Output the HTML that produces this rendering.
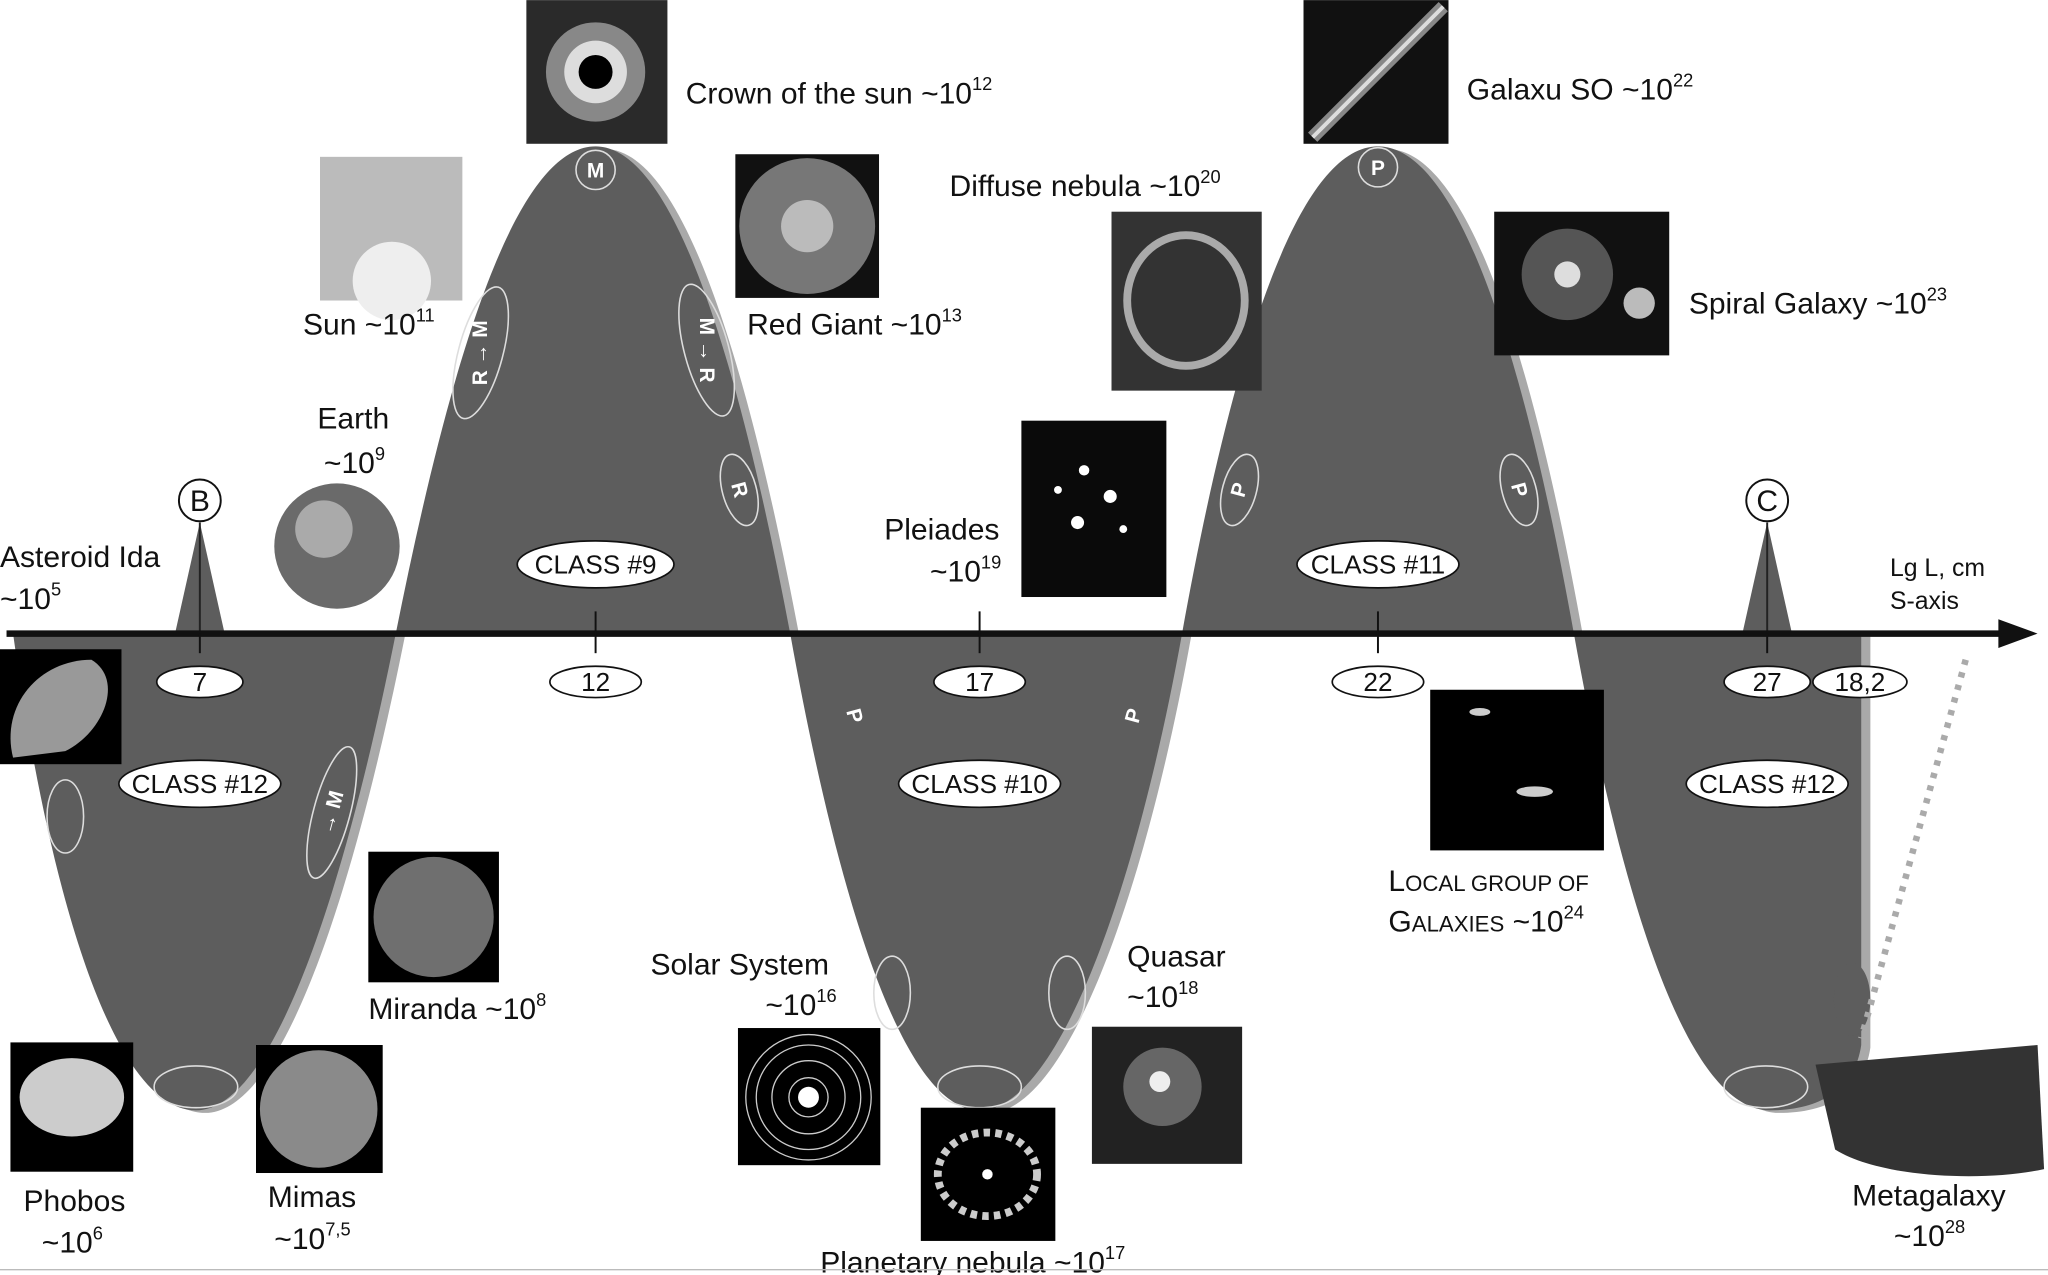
<!DOCTYPE html>
<html><head><meta charset="utf-8"><style>
html,body{margin:0;padding:0;background:#fff;width:2048px;height:1275px;overflow:hidden}
svg{display:block}
text{font-family:"Liberation Sans",sans-serif;fill:#111}
.l{font-size:23px}
.s{font-size:14px}
.c{font-size:20px}
</style></head><body>
<svg width="2048" height="1275" viewBox="0 0 1568 976" xmlns="http://www.w3.org/2000/svg">
<defs>
<path id="w" d="M10,485 C40,700 90,850 150,850 C215,850 270,650 303,485 C340,300 390,112 456,112 C520,112 570,300 605,485 C640,680 690,850 750,850 C810,850 870,680 905,485 C940,290 990,112 1055,112 C1120,112 1170,290 1205,485 C1240,680 1290,850 1355,850 C1392,850 1420,835 1425,800 L1425,485 Z"/>
</defs>
<use href="#w" transform="translate(7,2)" fill="#a9a9a9"/>
<use href="#w" fill="#5d5d5d"/>
<polygon points="134,485 153,400 172,485" fill="#5d5d5d"/>
<polygon points="1334,485 1353,400 1372,485" fill="#5d5d5d"/>
<line x1="153" y1="400" x2="153" y2="485" stroke="#222" stroke-width="1.5"/>
<line x1="1353" y1="400" x2="1353" y2="485" stroke="#222" stroke-width="1.5"/>
<circle cx="153" cy="383" r="16" fill="#fff" stroke="#111" stroke-width="1.5"/><text x="153" y="391" text-anchor="middle" class="l">B</text>
<circle cx="1353" cy="383" r="16" fill="#fff" stroke="#111" stroke-width="1.5"/><text x="1353" y="391" text-anchor="middle" class="l">C</text>
<g fill="none" stroke="#ddd" stroke-width="1.2">
<ellipse cx="368" cy="270" rx="17" ry="52" transform="rotate(15 368 270)"/>
<ellipse cx="541" cy="268" rx="17" ry="52" transform="rotate(-15 541 268)"/>
<ellipse cx="566" cy="375" rx="13" ry="28" transform="rotate(-15 566 375)"/>
<ellipse cx="254" cy="622" rx="14" ry="52" transform="rotate(15 254 622)"/>
<ellipse cx="50" cy="625" rx="14" ry="28"/>
<ellipse cx="150" cy="832" rx="32" ry="16"/>
<ellipse cx="750" cy="832" rx="32" ry="16"/>
<ellipse cx="1352" cy="832" rx="32" ry="16"/>
<ellipse cx="683" cy="760" rx="14" ry="28"/>
<ellipse cx="817" cy="760" rx="14" ry="28"/>
<ellipse cx="949" cy="375" rx="13" ry="28" transform="rotate(15 949 375)"/>
<ellipse cx="1163" cy="375" rx="13" ry="28" transform="rotate(-15 1163 375)"/>
<circle cx="456" cy="130" r="15"/><circle cx="1055" cy="128" r="15"/>
</g>
<ellipse cx="1418" cy="765" rx="14" ry="28" fill="#5d5d5d"/>
<g font-weight="bold" font-size="16" text-anchor="middle">
<text x="456" y="136" style="fill:#fff">M</text><text x="1055" y="134" style="fill:#fff">P</text>
<text x="368" y="275" style="fill:#fff" transform="rotate(-90 368 270)">R → M</text>
<text x="541" y="273" style="fill:#fff" transform="rotate(90 541 268)">M → R</text>
<text x="566" y="380" style="fill:#fff" transform="rotate(75 566 375)">R</text>
<text x="254" y="627" style="fill:#fff" transform="rotate(-75 254 622)">→ M</text>
<text x="949" y="380" style="fill:#fff" transform="rotate(-75 949 375)">P</text>
<text x="1163" y="380" style="fill:#fff" transform="rotate(75 1163 375)">P</text>
<text x="654" y="553" style="fill:#fff" transform="rotate(75 654 548)">P</text>
<text x="868" y="553" style="fill:#fff" transform="rotate(-75 868 548)">P</text>
</g>
<line x1="5" y1="485" x2="1535" y2="485" stroke="#111" stroke-width="5"/>
<polygon points="1530,474 1560,485 1530,496" fill="#111"/>
<g stroke="#111" stroke-width="1.5"><line x1="153" y1="485" x2="153" y2="500"/><line x1="456" y1="468" x2="456" y2="500"/><line x1="750" y1="468" x2="750" y2="500"/><line x1="1055" y1="468" x2="1055" y2="500"/><line x1="1353" y1="485" x2="1353" y2="500"/></g>
<g fill="#fff" stroke="#111" stroke-width="1.3">
<ellipse cx="153" cy="522" rx="33" ry="12"/><ellipse cx="456" cy="522" rx="35" ry="12"/><ellipse cx="750" cy="522" rx="35" ry="12"/><ellipse cx="1055" cy="522" rx="35" ry="12"/><ellipse cx="1353" cy="522" rx="33" ry="12"/><ellipse cx="1424" cy="522" rx="36" ry="12"/>
<ellipse cx="456" cy="432" rx="60" ry="18"/><ellipse cx="1055" cy="432" rx="62" ry="18"/><ellipse cx="153" cy="600" rx="62" ry="18"/><ellipse cx="750" cy="600" rx="62" ry="18"/><ellipse cx="1353" cy="600" rx="62" ry="18"/>
</g>
<g class="c" text-anchor="middle">
<text x="153" y="529">7</text><text x="456" y="529">12</text><text x="750" y="529">17</text><text x="1055" y="529">22</text><text x="1353" y="529">27</text><text x="1424" y="529">18,2</text>
<text x="456" y="439">CLASS #9</text><text x="1055" y="439">CLASS #11</text><text x="153" y="607">CLASS #12</text><text x="750" y="607">CLASS #10</text><text x="1353" y="607">CLASS #12</text>
</g>
<line x1="1505" y1="505" x2="1425" y2="795" stroke="#aaa" stroke-width="5" stroke-dasharray="4 6"/>
<rect x="403" y="0" width="108" height="110" fill="#2a2a2a"/><circle cx="456" cy="55" r="38" fill="#888"/><circle cx="456" cy="55" r="24" fill="#ddd"/><circle cx="456" cy="55" r="13" fill="#000"/>
<rect x="245" y="120" width="109" height="110" fill="#bbb"/><circle cx="300" cy="215" r="30" fill="#eee"/>
<rect x="563" y="118" width="110" height="110" fill="#111"/><circle cx="618" cy="173" r="52" fill="#777"/><circle cx="618" cy="173" r="20" fill="#bbb"/>
<circle cx="258" cy="418" r="48" fill="#6a6a6a"/><circle cx="248" cy="405" r="22" fill="#aaa"/>
<rect x="0" y="497" width="93" height="88" fill="#000"/><path d="M10,580 C0,540 30,505 70,505 C95,520 80,560 50,575 Z" fill="#999"/>
<rect x="8" y="798" width="94" height="99" fill="#000"/><ellipse cx="55" cy="840" rx="40" ry="30" fill="#ccc"/>
<rect x="196" y="800" width="97" height="98" fill="#000"/><circle cx="244" cy="849" r="45" fill="#8a8a8a"/>
<rect x="282" y="652" width="100" height="100" fill="#000"/><circle cx="332" cy="702" r="46" fill="#6f6f6f"/>
<rect x="782" y="322" width="111" height="135" fill="#0a0a0a"/><g fill="#fff"><circle cx="830" cy="360" r="4"/><circle cx="850" cy="380" r="5"/><circle cx="825" cy="400" r="5"/><circle cx="860" cy="405" r="3"/><circle cx="810" cy="375" r="3"/></g>
<rect x="851" y="162" width="115" height="137" fill="#333"/><ellipse cx="908" cy="230" rx="45" ry="50" fill="none" stroke="#aaa" stroke-width="6"/>
<rect x="998" y="0" width="111" height="110" fill="#111"/><line x1="1005" y1="105" x2="1105" y2="5" stroke="#888" stroke-width="10"/><line x1="1005" y1="105" x2="1105" y2="5" stroke="#ddd" stroke-width="3"/>
<rect x="1144" y="162" width="134" height="110" fill="#111"/><circle cx="1200" cy="210" r="35" fill="#555"/><circle cx="1200" cy="210" r="10" fill="#ddd"/><circle cx="1255" cy="232" r="12" fill="#bbb"/>
<rect x="1095" y="528" width="133" height="123" fill="#000"/><ellipse cx="1175" cy="606" rx="14" ry="4" fill="#ccc"/><ellipse cx="1133" cy="545" rx="8" ry="3" fill="#ccc"/>
<rect x="565" y="787" width="109" height="105" fill="#000"/><g fill="none" stroke="#ccc"><circle cx="619" cy="840" r="15"/><circle cx="619" cy="840" r="28"/><circle cx="619" cy="840" r="40"/><circle cx="619" cy="840" r="48"/></g><circle cx="619" cy="840" r="8" fill="#fff"/>
<rect x="705" y="848" width="103" height="102" fill="#000"/><ellipse cx="756" cy="899" rx="38" ry="32" fill="none" stroke="#ccc" stroke-width="6" stroke-dasharray="5 4"/><circle cx="756" cy="899" r="4" fill="#fff"/>
<rect x="836" y="786" width="115" height="105" fill="#222"/><circle cx="890" cy="832" r="30" fill="#666"/><circle cx="888" cy="828" r="8" fill="#eee"/>
<path d="M1390,815 L1560,800 L1565,895 C1520,905 1440,902 1405,880 Z" fill="#333"/>
<g class="l">
<text x="525" y="79">Crown of the sun ~10<tspan class="s" dy="-10">12</tspan></text>
<text x="232" y="256">Sun ~10<tspan class="s" dy="-10">11</tspan></text>
<text x="572" y="256">Red Giant ~10<tspan class="s" dy="-10">13</tspan></text>
<text x="243" y="328">Earth</text>
<text x="248" y="362">~10<tspan class="s" dy="-10">9</tspan></text>
<text x="0" y="434">Asteroid Ida</text>
<text x="0" y="466">~10<tspan class="s" dy="-10">5</tspan></text>
<text x="18" y="927">Phobos</text><text x="32" y="959">~10<tspan class="s" dy="-10">6</tspan></text>
<text x="205" y="924">Mimas</text><text x="210" y="956">~10<tspan class="s" dy="-10">7,5</tspan></text>
<text x="282" y="780">Miranda ~10<tspan class="s" dy="-10">8</tspan></text>
<text x="677" y="413">Pleiades</text><text x="712" y="445">~10<tspan class="s" dy="-10">19</tspan></text>
<text x="727" y="150">Diffuse nebula ~10<tspan class="s" dy="-10">20</tspan></text>
<text x="1123" y="76">Galaxu SO ~10<tspan class="s" dy="-10">22</tspan></text>
<text x="1293" y="240">Spiral Galaxy ~10<tspan class="s" dy="-10">23</tspan></text>
<text x="1063" y="682">L<tspan font-size="17">OCAL GROUP OF</tspan></text>
<text x="1063" y="713">G<tspan font-size="17">ALAXIES</tspan> ~10<tspan class="s" dy="-10">24</tspan></text>
<text x="498" y="746">Solar System</text><text x="586" y="777">~10<tspan class="s" dy="-10">16</tspan></text>
<text x="863" y="740">Quasar</text><text x="863" y="771">~10<tspan class="s" dy="-10">18</tspan></text>
<text x="628" y="974">Planetary nebula ~10<tspan class="s" dy="-10">17</tspan></text>
<text x="1418" y="923">Metagalaxy</text><text x="1450" y="954">~10<tspan class="s" dy="-10">28</tspan></text>
</g>
<text x="1447" y="441" font-size="19">Lg L, cm</text>
<text x="1447" y="466" font-size="19">S-axis</text>
<line x1="0" y1="972" x2="1568" y2="972" stroke="#bbb" stroke-width="1"/>
</svg>
</body></html>
